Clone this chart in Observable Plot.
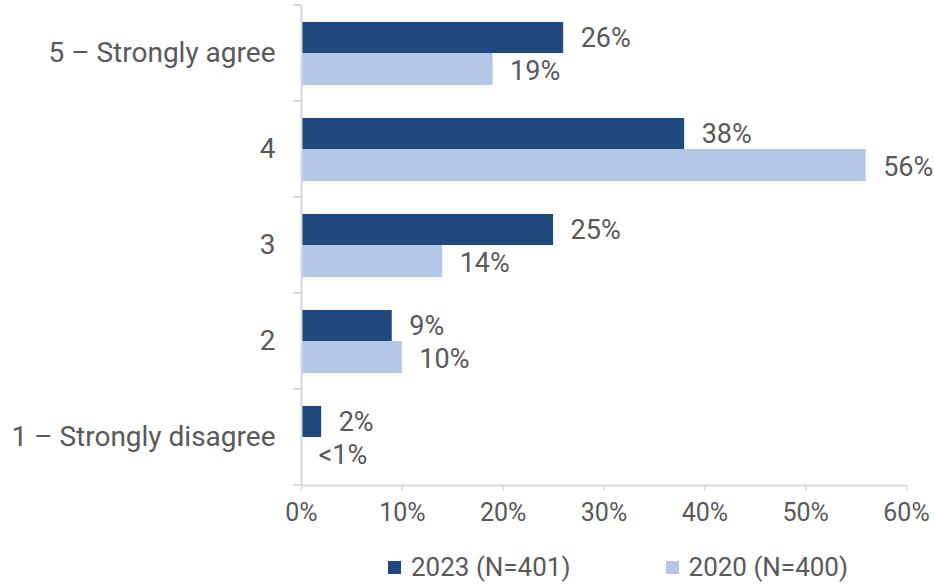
<!DOCTYPE html>
<html>
<head>
<meta charset="utf-8">
<script src="https://cdn.jsdelivr.net/npm/d3@7"></script>
<script src="https://cdn.jsdelivr.net/npm/@observablehq/plot@0.6"></script>
<style>
  body { margin: 0; background: #fff; font-family: Roboto, sans-serif; }
  #chart { position: relative; width: 935px; height: 584px; }
  #legend { position: absolute; left: 388px; top: 552px; height: 30px; display: flex; align-items: center; font-size: 26px; line-height: 30px; color: #595959; }
  .item { display: flex; align-items: center; }
  .sw { width: 13px; height: 13px; margin-right: 10px; }
</style>
</head>
<body>
<div id="chart"></div>
<script>
const categories = ["5 – Strongly agree", "4", "3", "2", "1 – Strongly disagree"];
const values2023 = [26, 38, 25, 9, 2];
const values2020 = [19, 56, 14, 10, 0];
const labels2023 = ["26%", "38%", "25%", "9%", "2%"];
const labels2020 = ["19%", "56%", "14%", "10%", "<1%"];
const seriesNames = ["2023 (N=401)", "2020 (N=400)"];
const seriesColors = ["#1F497D", "#B4C7E7"];
const xTicks = [0, 10, 20, 30, 40, 50, 60];

const d2023 = categories.map((c, i) => ({cat: c, value: values2023[i], label: labels2023[i]}));
const d2020 = categories.map((c, i) => ({cat: c, value: values2020[i], label: labels2020[i]}));

const textColor = "#595959";
const axisColor = "#D9D9D9";

const chart = Plot.plot({
  width: 935,
  height: 530,
  marginLeft: 301,
  marginRight: 29,
  marginTop: 5,
  marginBottom: 45,
  style: {fontFamily: "Roboto, sans-serif", background: "#fff"},
  x: {domain: [0, 60]},
  y: {domain: categories, padding: 0},
  marks: [
    Plot.barX(d2023, {x: "value", y: "cat", fill: seriesColors[0], insetTop: 17, insetBottom: 48}),
    Plot.barX(d2020, {x: "value", y: "cat", fill: seriesColors[1], insetTop: 48, insetBottom: 16}),
    Plot.text(d2023, {x: "value", y: "cat", text: "label", dx: 17, dy: -15, textAnchor: "start", fill: textColor, fontSize: 27}),
    Plot.text(d2020, {x: "value", y: "cat", text: "label", dx: 17, dy: 18, textAnchor: "start", fill: textColor, fontSize: 27}),
    Plot.ruleX([0], {stroke: axisColor, strokeWidth: 2}),
    Plot.ruleY([categories[categories.length - 1]], {stroke: axisColor, strokeWidth: 2, dy: 48}),
    Plot.axisX({ticks: xTicks, tickFormat: d => d + "%", tickSize: 6, stroke: axisColor, strokeWidth: 1.5, fill: textColor, fontSize: 25, tickPadding: 12, label: null}),
    Plot.axisY({tickSize: 0, tickPadding: 26, fill: textColor, fontSize: 28, label: null})
  ]
});

// category boundary ticks on the y axis, positioned from Plot's own y scale
const ys = chart.scale("y");
const bounds = categories.map(c => ys.apply(c)).concat([ys.apply(categories[categories.length - 1]) + ys.bandwidth]);
const xs = chart.scale("x");
const x0 = xs.apply(0);
d3.select(chart).append("g").selectAll("line").data(bounds).join("line")
  .attr("x1", x0 - 8).attr("x2", x0).attr("y1", d => d).attr("y2", d => d)
  .attr("stroke", axisColor).attr("stroke-width", 2);

const container = document.getElementById("chart");
container.appendChild(chart);

const legend = document.createElement("div");
legend.id = "legend";
seriesNames.forEach((name, i) => {
  const item = document.createElement("div");
  item.className = "item";
  if (i > 0) item.style.marginLeft = "95px";
  const sw = document.createElement("div");
  sw.className = "sw";
  sw.style.background = seriesColors[i];
  const t = document.createElement("span");
  t.textContent = name;
  item.appendChild(sw);
  item.appendChild(t);
  legend.appendChild(item);
});
container.appendChild(legend);
</script>
</body>
</html>
